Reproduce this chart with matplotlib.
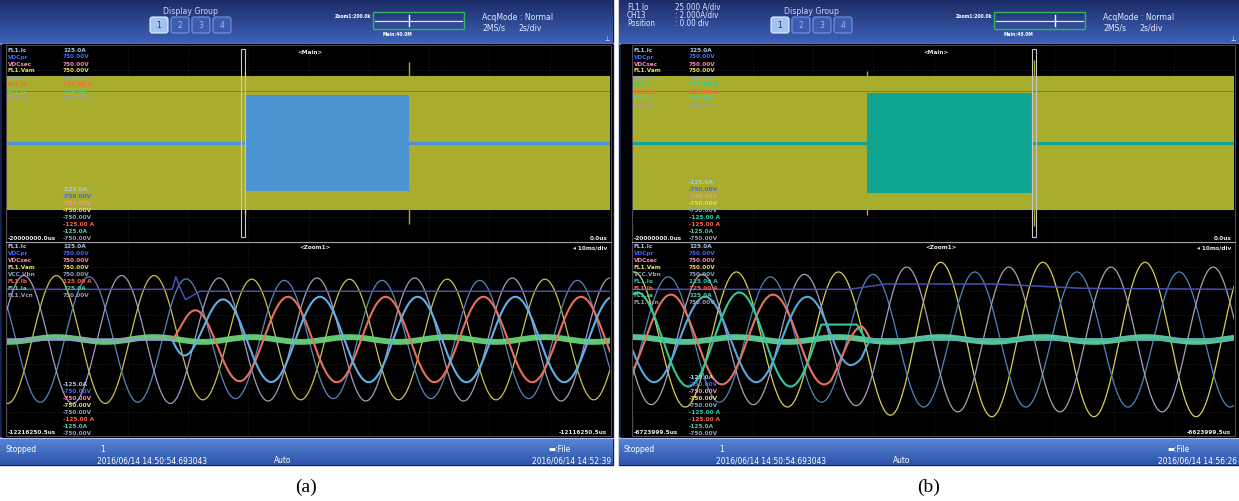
import numpy as np
import matplotlib
matplotlib.use('Agg')
import matplotlib.pyplot as plt
from matplotlib.patches import Rectangle, FancyBboxPatch
from matplotlib.colors import LinearSegmentedColormap

W, H = 1239, 502

# --- values ---

TOP_T = (-20.0, 0.0)      # main window, s (2 s/div)
LOW_T = (0.0, 100.0)      # zoom window, ms (10 ms/div)
DIV = 4                   # +-4 div vertically

# (a) fault start
A_BAND_HALF = 2.75
A_BLOCK_T = (-12.10, -6.67)
A_BLOCK_HALF = 1.96
A_CURSOR_T = -12.17
A_SPIKE_T = [-12.10, -6.67]
A_SPIKE_H = [2.9, 3.3]
A_REF_LEVEL = 2.12

A_PERIOD = 16.2
A_V_PEAK = 40.6
A_V_LAG = [0.0, 1 / 3, 2 / 3]
A_V_AMP_PRE = [2.65, 2.6, 2.65]
A_V_AMP_POST = [2.5, 2.45, 2.55]
A_V_RAMP = 4.0
A_FAULT_T = 27.4
A_I_PEAK = [46.6, 35.7]
A_I_AMP = [1.77, 1.77]
A_I_RISE = 3.0
A_DC_T = [0, 27.4, 28.0, 28.6, 29.6, 32.0, 100]
A_DC_V = [2.08, 2.08, 2.6, 2.2, 1.65, 2.0, 2.0]
A_RIPPLE = 0.1

# (b) fault clearing
B_BAND_HALF = 2.75
B_BLOCK_T = (-12.21, -6.69)
B_BLOCK_HALF = 2.04
B_CURSOR_T = -6.66
B_SPIKE_T = [-12.21, -6.66]
B_SPIKE_H = [2.95, 3.4]
B_REF_LEVEL = 2.12

B_PERIOD = 17.0
B_V_PEAK = 68.2
B_V_LAG = [0.0, 1 / 3, 2 / 3]
B_V_AMP_PRE = [2.8, 2.6, 2.7]
B_V_AMP_POST = [3.2, 2.8, 3.0]
B_V_RAMP = 8.0
B_CLEAR_T = 36.0
B_I_PEAK = [23.3, 29.0, 34.7]
B_I_AMP = [1.86, 1.77, 1.95]
B_I_ENV_T = [0, 33, 36, 38, 39.5]
B_I_ENV = [1, 1, 0.7, 0.45, 0]
B_TEAL_CLIP = 0.62
B_DC_T = [0, 36, 42, 60, 75, 100]
B_DC_V = [2.08, 2.08, 2.3, 2.3, 2.12, 2.08]
B_RIPPLE = 0.1

# channel list texts
A_ROW_NAMES = ['FL1.Ic', 'VDCpr', 'VDCsec', 'FL1.Vam', 'VCC.Vbn', 'FL1.Ib', 'FL1.Ia', 'FL1.Vcn']
A_ROW_MAX = ['125.0A', '750.00V', '750.00V', '750.00V', '750.00V', '125.00 A', '125.0A', '750.00V']
A_ROW_MIN = ['-125.0A', '-750.00V', '-750.00V', '-750.00V', '-750.00V', '-125.00 A', '-125.0A', '-750.00V']
A_ROW_COLORS = ['#a8c8ee', '#4066ff', '#ff8ab4', '#e6dc62', '#8aa4cc', '#ff6248', '#4fd09c', '#9c9cae']

B_ROW_NAMES = ['FL1.Ic', 'VDCpr', 'VDCsec', 'FL1.Vam', 'VCC.Vbn', 'FL1.Io', 'FL1.Ib', 'FL1.Ia', 'FL1.Vcn']
B_ROW_MAX = ['125.0A', '750.00V', '750.00V', '750.00V', '750.00V', '125.00 A', '125.00 A', '125.0A', '750.00V']
B_ROW_MIN = ['-125.0A', '-750.00V', '-750.00V', '-750.00V', '-750.00V', '-125.00 A', '-125.00 A', '-125.0A', '-750.00V']
B_ROW_COLORS = ['#a8c8ee', '#4066ff', '#ff8ab4', '#e6dc62', '#8aa4cc', '#22d0a8', '#ff6248', '#4fd09c', '#9c9cae']

A_TIME_LABELS = ['-20000000.0us', '0.0us', '-12216250.5us', '-12116250.5us']
B_TIME_LABELS = ['-20000000.0us', '0.0us', '-6723999.5us', '-6623999.5us']
A_DATES = ['2016/06/14 14:50:54.693043', '2016/06/14 14:52:39']
B_DATES = ['2016/06/14 14:50:54.693043', '2016/06/14 14:56:26']
B_CH_INFO = [('FL1.Io', '25.000 A/div'), ('CH13', ': 2.000A/div'), ('Position', ': 0.00 div')]

BAND_YELLOW = '#a9ad2e'
GRID = '#2c2c2c'
FONT = 'DejaVu Sans'

fig = plt.figure(figsize=(W / 100, H / 100), dpi=100)
fig.patch.set_facecolor('white')


def px_axes(x0, y0, x1, y1):
    ax = fig.add_axes([x0 / W, 1 - y1 / H, (x1 - x0) / W, (y1 - y0) / H])
    ax.set_axis_off()
    return ax


def gradient(ax, x0, x1, y0, y1, c_top, c_bot):
    g = np.linspace(0, 1, 64).reshape(-1, 1)
    cmap = LinearSegmentedColormap.from_list('g', [c_top, c_bot])
    ax.imshow(g, cmap=cmap, extent=(x0, x1, y1, y0), aspect='auto',
              interpolation='bilinear', zorder=1)


def phase_waves(t, period, peak, lags, amp_pre, amp_post, t_switch, ramp):
    out = []
    for lag, a0, a1 in zip(lags, amp_pre, amp_post):
        amp = np.interp(t, [t_switch, t_switch + ramp], [a0, a1])
        out.append(amp * np.cos(2 * np.pi * (t - peak - lag * period) / period))
    return out


def draw_main(ax, band_half, block_t, block_half, block_color, cursor_t, spike_t, spike_h, ref_level):
    ax.set_xlim(*TOP_T)
    ax.set_ylim(-DIV, DIV)
    for x in np.arange(TOP_T[0], TOP_T[1] + 0.1, 2.0):
        ax.axvline(x, color=GRID, lw=0.5, ls=':', zorder=1)
    for y in range(-DIV, DIV + 1):
        ax.axhline(y, color=GRID, lw=0.5, ls=':', zorder=1)
    ax.fill_between(TOP_T, -band_half, band_half, color=BAND_YELLOW, lw=0, zorder=2)
    ax.vlines(spike_t, [-h for h in spike_h], spike_h, color=BAND_YELLOW, lw=1.0, zorder=2)
    ax.fill_between(block_t, -block_half, block_half, color=block_color, lw=0, zorder=3)
    ax.axhline(0, color=block_color, lw=2.2, zorder=3)
    ax.axhline(ref_level, color='#6d7199', lw=0.7, zorder=3)
    ax.add_patch(Rectangle((cursor_t - 0.07, -3.85), 0.14, 7.7, fill=False,
                           ec='#c8c8c8', lw=0.8, zorder=4))


def draw_zoom(ax, t, volts, v_colors, currents, i_colors, dc_t, dc_v, ripple_wave, noise_color):
    ax.set_xlim(*LOW_T)
    ax.set_ylim(-DIV, DIV)
    for x in np.arange(LOW_T[0], LOW_T[1] + 1, 10.0):
        ax.axvline(x, color=GRID, lw=0.5, ls=':', zorder=1)
    for y in range(-DIV, DIV + 1):
        ax.axhline(y, color=GRID, lw=0.5, ls=':', zorder=1)
    for v, c in zip(volts, v_colors):
        ax.plot(t, v, color=c, lw=0.9, zorder=2)
    ax.plot(dc_t, dc_v, color='#4b4fb4', lw=1.1, zorder=2)
    ax.plot(t, ripple_wave, color=noise_color, lw=4.2, alpha=0.95, zorder=3)
    for i, c in zip(currents, i_colors):
        ax.plot(t, i, color=c, lw=1.5, zorder=4)


# ---- waveforms ----
t = np.linspace(LOW_T[0], LOW_T[1], 4000)

a_volts = phase_waves(t, A_PERIOD, A_V_PEAK, A_V_LAG, A_V_AMP_PRE, A_V_AMP_POST, A_FAULT_T, A_V_RAMP)
a_env = np.where(t > A_FAULT_T, 1 - np.exp(-(t - A_FAULT_T) / A_I_RISE), 0.0)
a_curr = [amp * a_env * np.cos(2 * np.pi * (t - pk) / A_PERIOD) for pk, amp in zip(A_I_PEAK, A_I_AMP)]
a_ripple = A_RIPPLE * np.cos(2 * np.pi * (t - A_V_PEAK) / A_PERIOD)

b_volts = phase_waves(t, B_PERIOD, B_V_PEAK, B_V_LAG, B_V_AMP_PRE, B_V_AMP_POST, B_CLEAR_T, B_V_RAMP)
b_env = np.interp(t, B_I_ENV_T, B_I_ENV)
b_curr = [amp * b_env * np.cos(2 * np.pi * (t - pk) / B_PERIOD) for pk, amp in zip(B_I_PEAK, B_I_AMP)]
b_curr[2] = np.where(t > 30, np.minimum(b_curr[2], B_TEAL_CLIP), b_curr[2])
b_ripple = B_RIPPLE * np.cos(2 * np.pi * (t - B_V_PEAK) / B_PERIOD)

SCREENS = [
    dict(sx=(0, 613), px=(7, 610), hx=0, label='(a)',
         band=A_BAND_HALF, block_t=A_BLOCK_T, block_half=A_BLOCK_HALF, block_color='#4b93d1',
         cursor=A_CURSOR_T, spike_t=A_SPIKE_T, spike_h=A_SPIKE_H, ref=A_REF_LEVEL,
         volts=a_volts, v_colors=['#cbc34a', '#5a86ba', '#a39cc2'],
         curr=a_curr, i_colors=['#ea705e', '#5fb2e8'],
         dc_t=A_DC_T, dc_v=A_DC_V, ripple=a_ripple, noise='#66d37a',
         names=A_ROW_NAMES, maxs=A_ROW_MAX, mins=A_ROW_MIN, colors=A_ROW_COLORS,
         times=A_TIME_LABELS, dates=A_DATES, info=None),
    dict(sx=(619, 1239), px=(633, 1234), hx=621, label='(b)',
         band=B_BAND_HALF, block_t=B_BLOCK_T, block_half=B_BLOCK_HALF, block_color='#10a592',
         cursor=B_CURSOR_T, spike_t=B_SPIKE_T, spike_h=B_SPIKE_H, ref=B_REF_LEVEL,
         volts=b_volts, v_colors=['#d8d04e', '#4f86bc', '#a8a0ba'],
         curr=b_curr, i_colors=['#ea735f', '#58a8dc', '#2fc99e'],
         dc_t=B_DC_T, dc_v=B_DC_V, ripple=b_ripple, noise='#5dd09c',
         names=B_ROW_NAMES, maxs=B_ROW_MAX, mins=B_ROW_MIN, colors=B_ROW_COLORS,
         times=B_TIME_LABELS, dates=B_DATES, info=B_CH_INFO),
]

HEAD = (0, 44)
TOP = (46, 242)
LOW = (244, 437)
STAT = (438, 466)

# background chrome
bg = px_axes(0, 0, W, H)
for s in SCREENS:
    sx0, sx1 = s['sx']
    px0, px1 = s['px']
    bg.add_patch(Rectangle((sx0, 0), sx1 - sx0, STAT[1], color='#14234f', zorder=0.5))
    gradient(bg, sx0, sx1, HEAD[0], HEAD[1], '#1b2a66', '#3e62b8')
    bg.plot([sx0, sx1], [HEAD[1] + 0.5, HEAD[1] + 0.5], color='#86a2e4', lw=1.2, zorder=2)
    bg.add_patch(Rectangle((sx0 + 2, HEAD[1] + 1), sx1 - sx0 - 3, STAT[0] - HEAD[1] - 1,
                           color='black', zorder=2))
    gradient(bg, sx0, sx1, STAT[0], STAT[1], '#5a88d8', '#2d53a9')
    bg.plot([sx0, sx1], [STAT[0] + 0.5, STAT[0] + 0.5], color='#a8c0f0', lw=0.8, zorder=2)
    bg.add_patch(Rectangle((px0 - 1, TOP[0]), px1 - px0 + 2, LOW[1] - TOP[0], fill=False,
                           ec='#5a5a62', lw=0.6, zorder=3))
    bg.plot([px0 - 1, px1 + 1], [243, 243], color='#a0a0a0', lw=0.8, zorder=3)
bg.set_xlim(0, W)
bg.set_ylim(H, 0)

# scope traces
for s in SCREENS:
    px0, px1 = s['px']
    ax_top = px_axes(px0, TOP[0], px1, TOP[1])
    draw_main(ax_top, s['band'], s['block_t'], s['block_half'], s['block_color'],
              s['cursor'], s['spike_t'], s['spike_h'], s['ref'])
    ax_low = px_axes(px0, LOW[0], px1, LOW[1])
    draw_zoom(ax_low, t, s['volts'], s['v_colors'], s['curr'], s['i_colors'],
              s['dc_t'], s['dc_v'], s['ripple'], s['noise'])

# texts and header widgets on top
ov = px_axes(0, 0, W, H)
ov.set_xlim(0, W)
ov.set_ylim(H, 0)


def txt(x, y, s, size=4.6, color='white', ha='left', weight='bold', **kw):
    ov.text(x, y, s, fontsize=size, color=color, ha=ha, va='center', family=FONT,
            fontweight=weight, fontstretch='condensed', **kw)


for s in SCREENS:
    sx0, sx1 = s['sx']
    px0, px1 = s['px']
    hx = s['hx']

    # header
    txt(hx + 190, 11, 'Display Group', size=6.2, color='#c8d8ff', ha='center', weight='normal')
    for k, bx in enumerate([150, 171, 192, 213]):
        on = k == 0
        ov.add_patch(FancyBboxPatch((hx + bx, 18), 18, 16, boxstyle='round,pad=0,rounding_size=2.5',
                                    fc='#a3c4f2' if on else '#3a5db0',
                                    ec='#e6efff' if on else '#7394dc', lw=0.8))
        txt(hx + bx + 9, 26, str(k + 1), size=6, color='#1b3378' if on else '#9fbdf0',
            ha='center', weight='normal')
    txt(hx + 371, 17, 'Zoom1:200.0k', size=3.6, ha='right')
    ov.add_patch(Rectangle((hx + 373, 13), 91, 17, fill=False, ec='#33b35a', lw=1.0))
    ov.plot([hx + 375, hx + 462], [21.5, 21.5], color='#dfe6f5', lw=0.9)
    tick_x = hx + 373 + (s['cursor'] - TOP_T[0]) / (TOP_T[1] - TOP_T[0]) * 91
    ov.plot([tick_x, tick_x], [16, 27], color='white', lw=1.0)
    txt(hx + 383, 34, 'Main:40.0M', size=3.6)
    txt(hx + 482, 17, 'AcqMode : Normal', size=6.2, color='#dfe8ff', weight='normal')
    txt(hx + 482, 28, '2MS/s', size=6.2, color='#dfe8ff', weight='normal')
    txt(hx + 518, 28, '2s/div', size=6.2, color='#dfe8ff', weight='normal')
    txt(sx1 - 6, 39, '\u22a5', size=5, color='#dfe8ff', weight='normal', ha='center')
    if s['info']:
        for k, (name, val) in enumerate(s['info']):
            y = 7 + k * 8.5
            txt(sx0 + 8, y, name, size=5.8, color='#dfe8ff', weight='normal')
            txt(sx0 + 56, y, val, size=5.8, color='#dfe8ff', weight='normal')

    # channel lists
    n = len(s['names'])
    for k in range(n):
        c = s['colors'][k]
        for y0 in (50, 247):
            y = y0 + 7 * k
            txt(px0 + 1, y, s['names'][k], color=c)
            txt(px0 + 56, y, s['maxs'][k], color=c)
        for y1 in (239, 434):
            y = y1 - 7 * (n - 1 - k)
            txt(px0 + 56, y, s['mins'][k], color=c)
    txt(px0 + 1, 239, s['times'][0], color='#e8e8e8')
    txt(px1 - 3, 239, s['times'][1], color='#e8e8e8', ha='right')
    txt(px0 + 1, 433, s['times'][2], color='#e8e8e8')
    txt(px1 - 3, 433, s['times'][3], color='#e8e8e8', ha='right')
    txt(px0 + 303, 52, '<Main>', color='#e8e8e8', ha='center')
    txt(px0 + 308, 248, '<Zoom1>', color='#e8e8e8', ha='center')
    txt(px1 - 3, 248, '\u25c2 10ms/div', color='#e8e8e8', ha='right')

    # status bar
    txt(sx0 + 5, 450, 'Stopped', size=6, weight='normal')
    txt(sx0 + 100, 450, '1', size=6, weight='normal')
    txt(sx0 + 97, 461, s['dates'][0], size=6, weight='normal')
    txt(sx0 + 274, 461, 'Auto', size=6, weight='normal')
    txt(sx0 + 548, 450, '\u25ac:File', size=6, weight='normal')
    txt(sx1 - 2, 461, s['dates'][1], size=6, weight='normal', ha='right')

    # caption
    ov.text((sx0 + sx1) / 2, 487, s['label'], fontsize=14, family='Liberation Serif',
            ha='center', va='center', color='black')

fig.savefig('out.png', dpi=100, facecolor='white')
